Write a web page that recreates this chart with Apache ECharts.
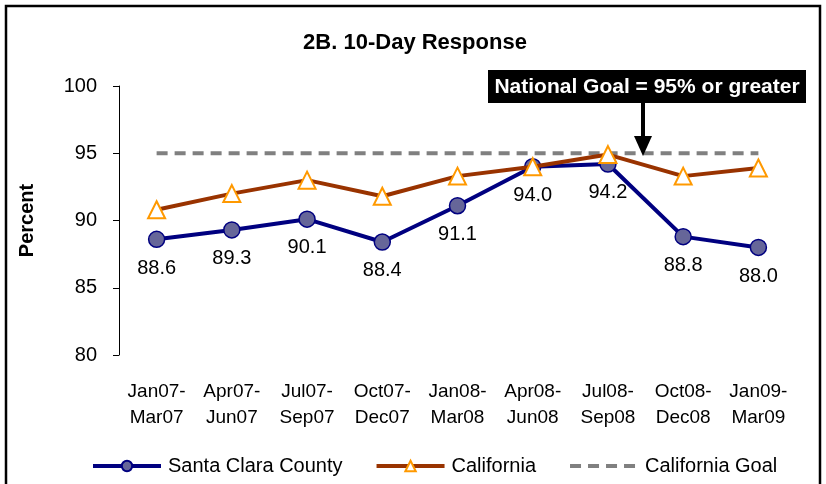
<!DOCTYPE html>
<html lang="en">
  <head>
    <meta charset="UTF-8" />
    <title>2B. 10-Day Response</title>
    <script src="https://cdn.jsdelivr.net/npm/echarts@6.0.0/dist/echarts.min.js"></script>
  </head>
  <body style="margin: 0">
    <div id="main" style="width: 826px; height: 484px"></div>
    <script type="text/javascript">
      const categories = [
        "Jan07-\nMar07", "Apr07-\nJun07", "Jul07-\nSep07", "Oct07-\nDec07", "Jan08-\nMar08",
        "Apr08-\nJun08", "Jul08-\nSep08", "Oct08-\nDec08", "Jan09-\nMar09",
      ];
      const santaClara = [88.6, 89.3, 90.1, 88.4, 91.1, 94.0, 94.2, 88.8, 88.0];
      const california = [90.8, 92.0, 93.0, 91.8, 93.3, 94.0, 94.9, 93.3, 93.9];
      const californiaGoal = [95, 95, 95, 95, 95, 95, 95, 95, 95];
      const yTicks = [80, 85, 90, 95, 100];

      const font = "Liberation Sans, Arial, sans-serif";

      let myChart = echarts.init(document.getElementById("main"));
      myChart.setOption({
        animation: false,
        backgroundColor: "#fff",
        textStyle: { fontFamily: font },
        title: {
          text: "2B. 10-Day Response",
          left: 410,
          top: 27,
          textAlign: "center",
          textStyle: { fontSize: 22, fontWeight: "bold", color: "#000", fontFamily: font },
        },
        legend: {
          top: 451,
          left: 86,
          itemWidth: 68,
          itemHeight: 13,
          itemGap: 32,
          textStyle: { fontSize: 20, color: "#000", fontFamily: font, padding: [0, 0, 0, 2] },
          lineStyle: { width: 4 },
          data: [
            "Santa Clara County",
            "California",
            { name: "California Goal", itemStyle: { opacity: 0 } },
          ],
        },
        grid: { left: 119, right: 30, top: 86, bottom: 129 },
        xAxis: {
          type: "category",
          data: categories,
          axisLine: { show: false },
          axisTick: { show: false },
          axisLabel: { fontSize: 19, color: "#000", lineHeight: 26, margin: 24, interval: 0 },
        },
        yAxis: {
          type: "value",
          min: yTicks[0],
          max: yTicks[yTicks.length - 1],
          interval: 5,
          name: "Percent",
          nameLocation: "middle",
          nameGap: 82,
          nameTextStyle: { fontSize: 20, fontWeight: "bold", color: "#000" },
          axisLine: { show: true, lineStyle: { color: "#000", width: 1 } },
          axisTick: { show: true, inside: false, length: 6, lineStyle: { color: "#000" } },
          axisLabel: { fontSize: 20, color: "#000", margin: 22 },
          splitLine: { show: false },
        },
        series: [
          {
            name: "Santa Clara County",
            type: "line",
            data: santaClara,
            z: 3,
            symbol: "circle",
            symbolSize: 16,
            lineStyle: { color: "#000080", width: 4 },
            itemStyle: { color: "#666699", borderColor: "#000080", borderWidth: 1.5 },
            label: {
              show: true,
              position: "bottom",
              distance: 10,
              fontSize: 20,
              color: "#000",
              formatter: (p) => p.value.toFixed(1),
            },
          },
          {
            name: "California",
            type: "line",
            data: california,
            z: 4,
            symbol: "triangle",
            symbolSize: 17,
            lineStyle: { color: "#993300", width: 4 },
            itemStyle: { color: "#fff", borderColor: "#ff9900", borderWidth: 2 },
          },
          {
            name: "California Goal",
            type: "line",
            data: californiaGoal,
            z: 2,
            symbol: "none",
            lineStyle: { color: "#808080", width: 4, type: [11, 7] },
            itemStyle: { color: "#808080" },
          },
        ],
        graphic: [
          {
            type: "rect",
            shape: { x: 6, y: 6, width: 814, height: 500 },
            style: { fill: "none", stroke: "#000", lineWidth: 2.5 },
            silent: true,
          },
          {
            type: "rect",
            shape: { x: 488, y: 70, width: 318, height: 33 },
            style: { fill: "#000" },
            z: 10,
          },
          {
            type: "text",
            x: 647,
            y: 87,
            z: 11,
            style: {
              text: "National Goal = 95% or greater",
              fill: "#fff",
              font: "bold 21px " + font,
              align: "center",
              verticalAlign: "middle",
            },
          },
          {
            type: "line",
            shape: { x1: 643, y1: 103, x2: 643, y2: 138 },
            style: { stroke: "#000", lineWidth: 4 },
            z: 10,
          },
          {
            type: "polygon",
            shape: { points: [[634, 136], [652, 136], [643, 156]] },
            style: { fill: "#000" },
            z: 10,
          },
        ],
      });
    </script>
  </body>
</html>
